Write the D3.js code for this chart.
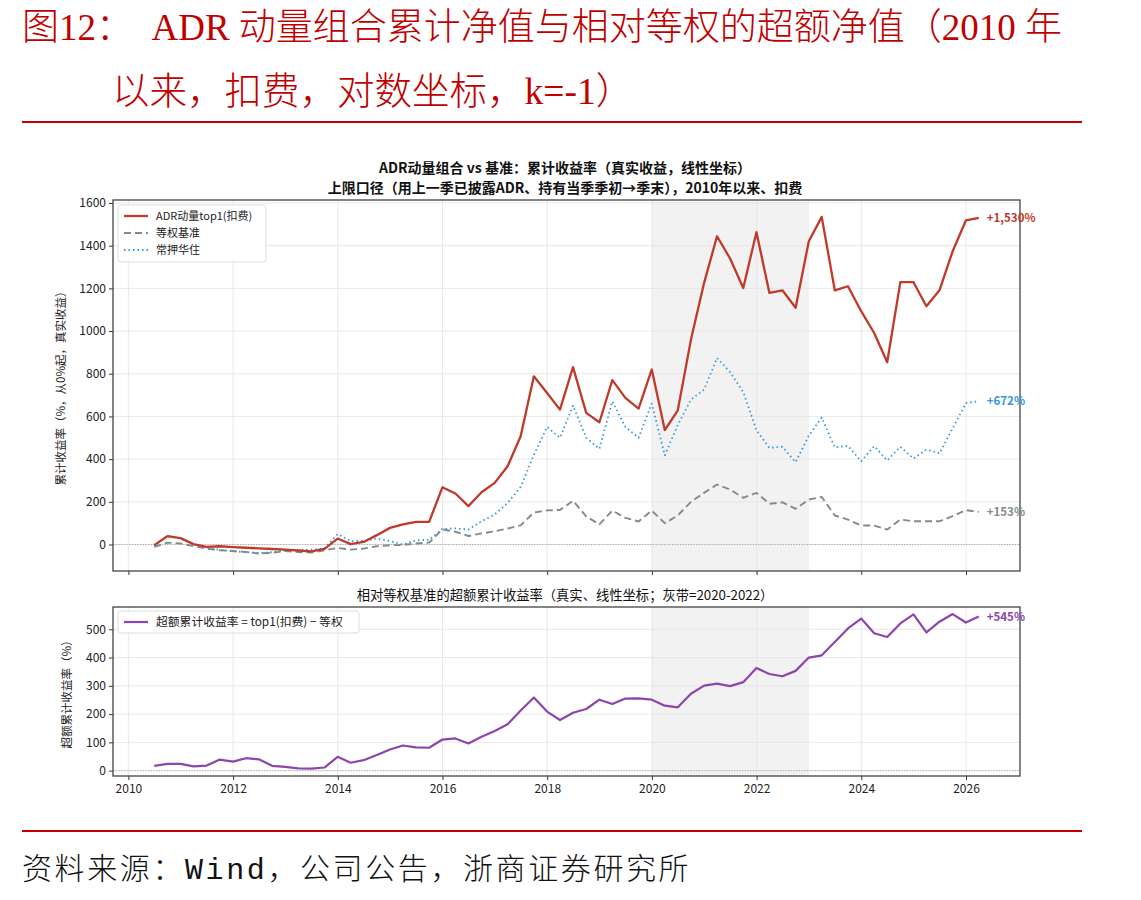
<!DOCTYPE html>
<html>
<head>
<meta charset="utf-8">
<script src="https://cdn.jsdelivr.net/npm/d3@7"></script>
<style>
  body { margin: 0; background: #fff; }
  text { font-family: "Noto Sans CJK SC", "Noto Sans", sans-serif; }
</style>
</head>
<body>
<div id="main"></div>
<script>
// quarter-end dates
const dates = [
  "2010-06-30","2010-09-30","2010-12-31",
  "2011-03-31","2011-06-30","2011-09-30","2011-12-31",
  "2012-03-31","2012-06-30","2012-09-30","2012-12-31",
  "2013-03-31","2013-06-30","2013-09-30","2013-12-31",
  "2014-03-31","2014-06-30","2014-09-30","2014-12-31",
  "2015-03-31","2015-06-30","2015-09-30","2015-12-31",
  "2016-03-31","2016-06-30","2016-09-30","2016-12-31",
  "2017-03-31","2017-06-30","2017-09-30","2017-12-31",
  "2018-03-31","2018-06-30","2018-09-30","2018-12-31",
  "2019-03-31","2019-06-30","2019-09-30","2019-12-31",
  "2020-03-31","2020-06-30","2020-09-30","2020-12-31",
  "2021-03-31","2021-06-30","2021-09-30","2021-12-31",
  "2022-03-31","2022-06-30","2022-09-30","2022-12-31",
  "2023-03-31","2023-06-30","2023-09-30","2023-12-31",
  "2024-03-31","2024-06-30","2024-09-30","2024-12-31",
  "2025-03-31","2025-06-30","2025-09-30","2025-12-31",
  "2026-03-31"
];

// cumulative returns (%)
const top1 = [-3,39,30,2,-11,-8,-12,-15,-18,-21,-24,-28,-32,-20,28,2,12,44,78,94,106,106,
  268,239,180,245,289,367,507,788,710,632,831,617,573,770,687,637,820,536,629,960,
  1226,1444,1340,1202,1463,1179,1191,1109,1421,1535,1191,1210,1093,991,854,1229,
  1229,1116,1191,1374,1518,1530];
const equalW = [-11,9,5,-8,-19,-27,-30,-35,-42,-39,-30,-35,-38,-27,-16,-24,-19,-8,-3,-2,5,9,
  71,60,40,52,62,75,90,150,160,162,205,132,94,159,125,108,159,100,136,200,
  242,281,258,219,242,191,198,167,211,223,136,117,89,89,70,117,
  109,109,109,133,161,153];
const holdHz = [-5,40,28,0,-15,-25,-32,-35,-40,-36,-28,-26,-24,-18,49,16,17,28,16,0,20,22,
  73,76,70,109,141,195,270,420,551,500,651,500,448,671,551,500,660,418,560,679,
  726,874,808,714,535,453,458,386,510,595,455,462,390,461,394,458,
  403,445,427,545,662,672];
const excess = [17,24,24,15,18,39,32,44,40,17,13,8,7,11,49,28,37,55,75,89,82,81,
  110,114,96,120,140,164,213,259,209,179,205,218,251,236,255,256,251,230,224,272,
  301,308,299,313,363,342,334,353,400,408,455,503,538,486,473,521,
  553,489,527,554,524,545];

const yTicksTop = [0,200,400,600,800,1000,1200,1400,1600];
const yTicksBot = [0,100,200,300,400,500];
const xTicks = [2010,2012,2014,2016,2018,2020,2022,2024,2026];
const band = [2020, 2023];

const seriesTop = [
  {name: "ADR动量top1(扣费)", values: top1, color: "#c0392b", width: 2.3, dash: null, label: "+1,530%"},
  {name: "等权基准", values: equalW, color: "#7f8c8d", width: 1.9, dash: "7,4", label: "+153%"},
  {name: "常押华住", values: holdHz, color: "#3498db", width: 1.8, dash: "1.5,3", label: "+672%"}
];

const W = 1141, H = 900;
const svg = d3.select("#main").append("svg").attr("width", W).attr("height", H);

function decYear(s){
  const d = new Date(s + "T00:00:00Z");
  const y = d.getUTCFullYear();
  const a = Date.UTC(y,0,1), b = Date.UTC(y+1,0,1);
  return y + (d - a) / (b - a);
}
const tx = dates.map(decYear);

// ---- page title ----
const red = "#c00000";
const serif = '"Liberation Serif", "Times New Roman", "Noto Sans CJK SC", serif';
svg.append("text").attr("x", 22).attr("y", 40)
   .attr("fill", red).style("font-family", serif).style("font-size", "37px").style("font-weight", 300)
   .attr("xml:space", "preserve")
   .text("图12：  ADR 动量组合累计净值与相对等权的超额净值（2010 年");
svg.append("text").attr("x", 112).attr("y", 104)
   .attr("fill", red).style("font-family", serif).style("font-size", "37.5px").style("font-weight", 300)
   .text("以来，扣费，对数坐标，k=-1）");
svg.append("line").attr("x1", 22).attr("x2", 1082).attr("y1", 122).attr("y2", 122)
   .attr("stroke", red).attr("stroke-width", 2);
svg.append("line").attr("x1", 22).attr("x2", 1082).attr("y1", 831).attr("y2", 831)
   .attr("stroke", red).attr("stroke-width", 2);
const src = svg.append("text").attr("x", 22).attr("y", 879)
   .attr("fill", "#111").style("font-family", serif).style("font-size", "30px").style("font-weight", 300)
   .style("letter-spacing", "2.6px");
src.append("tspan").text("资料来源：");
src.append("tspan").style("font-family", '"Liberation Mono", monospace').text("Wind");
src.append("tspan").text("，公司公告，浙商证券研究所");

// ---- scales ----
const L = 113, R = 1020;
const span = tx[tx.length-1] - tx[0];
const x = d3.scaleLinear().domain([tx[0] - span*0.05, tx[tx.length-1] + span*0.05]).range([L, R]);

const topT = 200, topB = 571;
const yTop = d3.scaleLinear().domain([-124, 1614]).range([topB, topT]);
const botT = 607, botB = 776;
const yBot = d3.scaleLinear().domain([-19, 579]).range([botB, botT]);

function panel(y, yTicks, top, bottom, showXLabels){
  const g = svg.append("g");
  // grey band
  g.append("rect").attr("x", x(band[0])).attr("y", top)
   .attr("width", x(band[1]) - x(band[0])).attr("height", bottom - top)
   .attr("fill", "#f2f2f2");
  // grid
  g.selectAll(".vg").data(xTicks).enter().append("line")
   .attr("x1", d => x(d)).attr("x2", d => x(d)).attr("y1", top).attr("y2", bottom)
   .attr("stroke", "#e3e3e3").attr("stroke-width", 0.8);
  g.selectAll(".hg").data(yTicks).enter().append("line")
   .attr("x1", L).attr("x2", R).attr("y1", d => y(d)).attr("y2", d => y(d))
   .attr("stroke", "#e3e3e3").attr("stroke-width", 0.8);
  // zero line
  g.append("line").attr("x1", L).attr("x2", R).attr("y1", y(0)).attr("y2", y(0))
   .attr("stroke", "#999").attr("stroke-width", 0.8).attr("stroke-dasharray", "1.2,1.5");

  const ya = g.append("g").attr("transform", `translate(${L},0)`)
   .call(d3.axisLeft(y).tickValues(yTicks).tickSize(4).tickPadding(3).tickFormat(d3.format("d")));
  const xa = g.append("g").attr("transform", `translate(0,${bottom})`)
   .call(d3.axisBottom(x).tickValues(xTicks).tickSize(4).tickPadding(4)
         .tickFormat(showXLabels ? d3.format("d") : ""));
  [ya, xa].forEach(a => {
    a.select(".domain").remove();
    a.selectAll("line").attr("stroke", "#333");
    a.selectAll("text").attr("fill", "#222").style("font-size", "12px");
  });
  g.append("rect").attr("x", L).attr("y", top).attr("width", R - L).attr("height", bottom - top)
   .attr("fill", "none").attr("stroke", "#444").attr("stroke-width", 1.3);
  return g;
}

// ---- top panel ----
const gTop = panel(yTop, yTicksTop, topT, topB, false);
const lineTop = d3.line().x((d, i) => x(tx[i])).y(d => yTop(d));
seriesTop.slice().reverse().forEach(s => {
  gTop.append("path").datum(s.values)
    .attr("d", lineTop).attr("fill", "none")
    .attr("stroke", s.color).attr("stroke-width", s.width)
    .attr("stroke-dasharray", s.dash)
    .attr("stroke-linejoin", "round");
  const last = s.values[s.values.length-1];
  gTop.append("text").attr("x", x(tx[tx.length-1]) + 8).attr("y", yTop(last))
    .attr("dy", "0.35em").attr("fill", s.color)
    .style("font-size", "11.5px").style("font-weight", "bold").text(s.label);
});

svg.append("text").attr("x", 565).attr("y", 173).attr("text-anchor", "middle")
   .style("font-size", "14px").style("font-weight", "bold").attr("fill", "#111")
   .text("ADR动量组合 vs 基准：累计收益率（真实收益，线性坐标）");
svg.append("text").attr("x", 565).attr("y", 193).attr("text-anchor", "middle")
   .style("font-size", "14px").style("font-weight", "bold").attr("fill", "#111")
   .text("上限口径（用上一季已披露ADR、持有当季季初→季末），2010年以来、扣费");
svg.append("text").attr("transform", `translate(65,${(topT+topB)/2}) rotate(-90)`)
   .attr("text-anchor", "middle").style("font-size", "11.5px").attr("fill", "#222")
   .text("累计收益率（%，从0%起，真实收益）");

// legend top
const lgT = gTop.append("g").attr("transform", "translate(118,205)");
lgT.append("rect").attr("width", 148).attr("height", 57).attr("rx", 3)
   .attr("fill", "#fff").attr("fill-opacity", 0.85).attr("stroke", "#ddd");
seriesTop.forEach((s, i) => {
  const yy = 11 + i * 17;
  lgT.append("line").attr("x1", 6).attr("x2", 30).attr("y1", yy).attr("y2", yy)
    .attr("stroke", s.color).attr("stroke-width", s.width).attr("stroke-dasharray", s.dash);
  lgT.append("text").attr("x", 38).attr("y", yy).attr("dy", "0.35em")
    .style("font-size", "11px").attr("fill", "#222").text(s.name);
});

// ---- bottom panel ----
const gBot = panel(yBot, yTicksBot, botT, botB, true);
const lineBot = d3.line().x((d, i) => x(tx[i])).y(d => yBot(d));
gBot.append("path").datum(excess).attr("d", lineBot).attr("fill", "none")
  .attr("stroke", "#8e44ad").attr("stroke-width", 2.2).attr("stroke-linejoin", "round");
gBot.append("text").attr("x", x(tx[tx.length-1]) + 8).attr("y", yBot(excess[excess.length-1]))
  .attr("dy", "0.35em").attr("fill", "#8e44ad")
  .style("font-size", "11.5px").style("font-weight", "bold").text("+545%");

svg.append("text").attr("x", 565).attr("y", 600).attr("text-anchor", "middle")
   .style("font-size", "13.3px").attr("fill", "#111")
   .text("相对等权基准的超额累计收益率（真实、线性坐标；灰带=2020-2022）");
svg.append("text").attr("transform", `translate(71,${(botT+botB)/2}) rotate(-90)`)
   .attr("text-anchor", "middle").style("font-size", "11.5px").attr("fill", "#222")
   .text("超额累计收益率（%）");

const lgB = gBot.append("g").attr("transform", "translate(118,611)");
lgB.append("rect").attr("width", 241).attr("height", 22).attr("rx", 3)
   .attr("fill", "#fff").attr("fill-opacity", 0.85).attr("stroke", "#ddd");
lgB.append("line").attr("x1", 6).attr("x2", 30).attr("y1", 11).attr("y2", 11)
   .attr("stroke", "#8e44ad").attr("stroke-width", 2.2);
lgB.append("text").attr("x", 38).attr("y", 11).attr("dy", "0.35em")
   .style("font-size", "11.8px").attr("fill", "#222").text("超额累计收益率 = top1(扣费) − 等权");
</script>
</body>
</html>
